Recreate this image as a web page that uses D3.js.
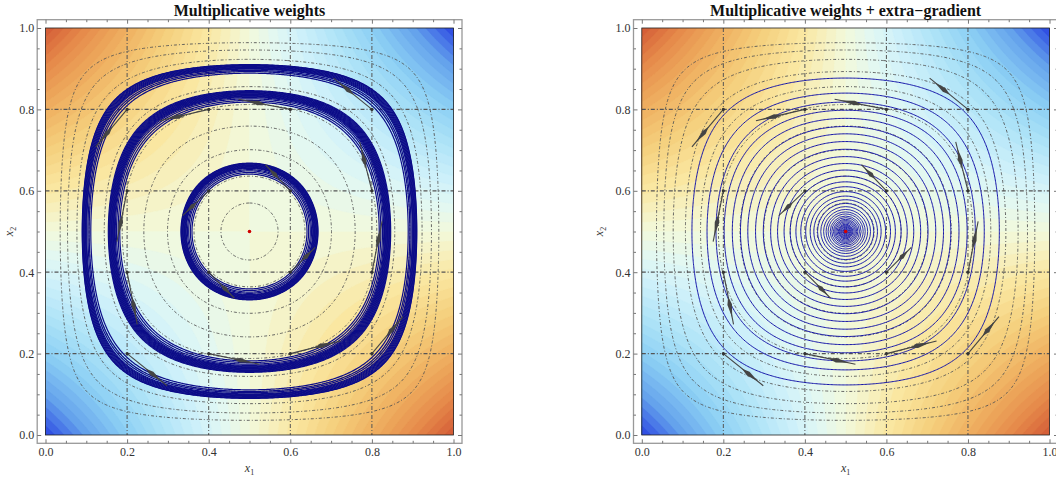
<!DOCTYPE html>
<html>
<head>
<meta charset="utf-8">
<script src="https://cdn.jsdelivr.net/npm/d3@7"></script>
<style>
  body { margin: 0; background: #fff; }
  svg { display: block; }
  text { font-family: "Liberation Serif", "Times New Roman", serif; }
</style>
</head>
<body>
<svg id="chart" width="1056" height="480"></svg>
<script>
// ---- data ----
var majorTicks = [0, 0.2, 0.4, 0.6, 0.8, 1.0];
var minorTicks = [0.05, 0.1, 0.15, 0.25, 0.3, 0.35, 0.45, 0.5, 0.55, 0.65, 0.7, 0.75, 0.85, 0.9, 0.95];
var gridLines = [0.2, 0.4, 0.6, 0.8];

// dot-dashed level curves: distance from 0.5 where each one crosses the x2 = 0.5 line
var contourRadii = [0.070, 0.136, 0.201, 0.259, 0.312, 0.356, 0.393, 0.423, 0.446, 0.464];

// multiplicative weights: three slowly growing bands (crossing radii of the loops)
var innerBand = [0.141, 0.145, 0.149, 0.152, 0.155, 0.1565, 0.158, 0.1595, 0.161, 0.1625, 0.164, 0.1655, 0.167, 0.168];
var middleBand = [0.318, 0.322, 0.326, 0.329, 0.331, 0.3325, 0.334, 0.3355, 0.337, 0.3385, 0.340, 0.3415, 0.343, 0.3445, 0.346];
var outerBand = [0.389, 0.393, 0.396, 0.399, 0.4005, 0.402, 0.4035, 0.405, 0.4065, 0.408, 0.4095, 0.410];

// extra-gradient: turns of the spiral closing in on the centre
var spiralRadii = [0.377, 0.340, 0.318, 0.298, 0.278, 0.258, 0.240, 0.221, 0.202, 0.184, 0.167, 0.151,
  0.136, 0.122, 0.110, 0.098, 0.087, 0.078, 0.069, 0.061, 0.054, 0.048, 0.043, 0.038, 0.034, 0.030,
  0.027, 0.024, 0.021, 0.018, 0.016, 0.014, 0.012, 0.010, 0.008, 0.006, 0.004];

// vector field arrows: start point and displacement
var arrowX1 = [0.2, 0.2, 0.2, 0.2, 0.4, 0.4, 0.4, 0.4, 0.6, 0.6, 0.6, 0.6, 0.8, 0.8, 0.8, 0.8];
var arrowX2 = [0.2, 0.4, 0.6, 0.8, 0.2, 0.4, 0.6, 0.8, 0.2, 0.4, 0.6, 0.8, 0.2, 0.4, 0.6, 0.8];
var arrowDX = [0.098, 0.025, -0.025, -0.077, 0.124, 0.063, -0.064, -0.120, 0.123, 0.061, -0.061, -0.127, 0.076, 0.025, -0.030, -0.094];
var arrowDY = [-0.079, -0.128, -0.125, -0.092, -0.026, -0.064, -0.061, -0.028, 0.031, 0.061, 0.064, 0.025, 0.091, 0.125, 0.120, 0.077];

var equilibrium = [0.5, 0.5];

// colour map (low payoff -> red, high -> blue)
var colorStops = [0, 0.1, 0.2, 0.3, 0.4, 0.5, 0.56, 0.62, 0.7, 0.8, 0.9, 1];
var colorValues = ["#d35a36", "#e68a4a", "#efaf60", "#f5cf7c", "#fae8a2", "#f2f9dc", "#e2f8f2",
  "#cff1fa", "#b2e5f8", "#8ccff4", "#64a2ec", "#2a46e2"];

var panels = [
  { title: "Multiplicative weights", left: 45.5, right: 453.5, ylab: 8.5,
    loops: innerBand.concat(middleBand, outerBand), stroke: "#0c0c88", width: 1.2 },
  { title: "Multiplicative weights + extra\u2212gradient", left: 641.8, right: 1049.5, ylab: 598.5,
    loops: spiralRadii, stroke: "#1414a8", width: 1 }
];

// ---- drawing ----
(function() {
var svg = d3.select("#chart");
var plotTop = 28, plotBottom = 435;
var N = 301, NB = 161, eps = 1e-4, small = 0.07;

function clamp(v) { return Math.min(Math.max(v, eps), 1 - eps); }
// minus the KL-type energy; 0 at the centre
function energy(a, b) { a = clamp(a); b = clamp(b); return Math.log(4 * a * (1 - a)) + Math.log(4 * b * (1 - b)); }
function levelOf(r) { return Math.log(1 - 4 * r * r); }
function payoff(a, b) { return (a - 0.5) * (b - 0.5); }

function grid(fn, n) {
  var v = new Float64Array(n * n);
  for (var j = 0; j < n; j++)
    for (var i = 0; i < n; i++) v[j * n + i] = fn(i / (n - 1), j / (n - 1));
  return v;
}
var energyGrid = grid(energy, N);
var payoffGrid = grid(payoff, NB);

var color = d3.scaleLinear().domain(colorStops).range(colorValues).interpolate(d3.interpolateRgb);
var nb = 44;
var bandLevels = d3.range(-0.25, 0.25, 0.5 / nb);

function gridPath(sx, sy, n) {
  return d3.geoPath(d3.geoTransform({
    point: function(x, y) { this.stream.point(sx((x - 0.5) / (n - 1)), sy((y - 0.5) / (n - 1))); }
  }));
}

var loopContours = d3.contours().size([N, N]);
var fieldContours = d3.contours().size([NB, NB]).thresholds(bandLevels)(payoffGrid);
var levelContours = loopContours.thresholds(contourRadii.map(levelOf))(energyGrid);

panels.forEach(function(p, k) {
  var sx = d3.scaleLinear().domain([0, 1]).range([p.left, p.right]);
  var sy = d3.scaleLinear().domain([0, 1]).range([plotBottom, plotTop]);
  var g = svg.append("g");
  var clipId = "clip" + k;
  g.append("clipPath").attr("id", clipId).append("rect")
    .attr("x", p.left).attr("y", plotTop).attr("width", p.right - p.left).attr("height", plotBottom - plotTop);
  var plot = g.append("g").attr("clip-path", "url(#" + clipId + ")");

  // background density
  var bpath = gridPath(sx, sy, NB);
  plot.selectAll("path.band").data(fieldContours).enter().append("path")
    .attr("class", "band")
    .attr("d", bpath)
    .attr("fill", function(d) { return color(0.5 + 2 * (d.value + 0.25 / nb)); })
    .attr("stroke", function(d) { return color(0.5 + 2 * (d.value + 0.25 / nb)); })
    .attr("stroke-width", 0.4);

  var epath = gridPath(sx, sy, N);
  // dot-dashed level curves
  plot.selectAll("path.level").data(levelContours).enter().append("path")
    .attr("class", "level")
    .attr("d", epath)
    .attr("fill", "none")
    .attr("stroke", "#555")
    .attr("stroke-width", 0.9)
    .attr("stroke-dasharray", "3,2,1,2");

  // grid lines
  plot.selectAll("line.gx").data(gridLines).enter().append("line")
    .attr("x1", function(d) { return sx(d); }).attr("x2", function(d) { return sx(d); })
    .attr("y1", plotTop).attr("y2", plotBottom)
    .attr("stroke", "#555").attr("stroke-width", 1).attr("stroke-dasharray", "4,2,1,2");
  plot.selectAll("line.gy").data(gridLines).enter().append("line")
    .attr("y1", function(d) { return sy(d); }).attr("y2", function(d) { return sy(d); })
    .attr("x1", p.left).attr("x2", p.right)
    .attr("stroke", "#555").attr("stroke-width", 1.2).attr("stroke-dasharray", "4,2,1,2");

  // trajectories: larger turns follow the level curves, the small ones near the centre are round
  var big = p.loops.filter(function(r) { return r >= small; });
  var tiny = p.loops.filter(function(r) { return r < small; });
  var loops = loopContours.thresholds(big.map(levelOf))(energyGrid);
  plot.selectAll("path.traj").data(loops).enter().append("path")
    .attr("class", "traj")
    .attr("d", epath)
    .attr("fill", "none")
    .attr("stroke", p.stroke)
    .attr("stroke-width", p.width);
  plot.selectAll("circle.traj").data(tiny).enter().append("circle")
    .attr("class", "traj")
    .attr("cx", sx(0.5)).attr("cy", sy(0.5))
    .attr("r", function(r) { return sx(0.5 + r) - sx(0.5); })
    .attr("fill", "none")
    .attr("stroke", p.stroke)
    .attr("stroke-width", 0.9);
  if (tiny.length) {
    plot.append("circle").attr("cx", sx(0.5)).attr("cy", sy(0.5))
      .attr("r", sx(0.5 + d3.min(tiny)) - sx(0.5)).attr("fill", p.stroke);
  }

  // arrows
  var arrows = arrowX1.map(function(x, i) {
    return { x0: sx(x), y0: sy(arrowX2[i]), x1: sx(x + arrowDX[i]), y1: sy(arrowX2[i] + arrowDY[i]) };
  });
  var ag = plot.append("g");
  ag.selectAll("line").data(arrows).enter().append("line")
    .attr("x1", function(d) { return d.x0; }).attr("y1", function(d) { return d.y0; })
    .attr("x2", function(d) { return d.x1; }).attr("y2", function(d) { return d.y1; })
    .attr("stroke", "#444").attr("stroke-width", 1.1);
  ag.selectAll("path").data(arrows).enter().append("path")
    .attr("d", function(d) {
      var vx = d.x1 - d.x0, vy = d.y1 - d.y0, L = Math.hypot(vx, vy);
      var nx = -vy / L, ny = vx / L, w = 2.3;
      function at(f) { return [d.x0 + vx * f, d.y0 + vy * f]; }
      var b = at(0.47), m = at(0.62), t = at(0.87);
      return "M" + b + "L" + [m[0] + nx * w, m[1] + ny * w] + "L" + t + "L" + [m[0] - nx * w, m[1] - ny * w] + "Z";
    })
    .attr("fill", "#444");
  ag.selectAll("circle").data(arrows).enter().append("circle")
    .attr("cx", function(d) { return d.x0; }).attr("cy", function(d) { return d.y0; })
    .attr("r", 1.6).attr("fill", "#333");

  plot.append("circle").attr("cx", sx(equilibrium[0])).attr("cy", sy(equilibrium[1]))
    .attr("r", 1.8).attr("fill", "#d00000");

  // plot border
  g.append("rect").attr("x", p.left).attr("y", plotTop)
    .attr("width", p.right - p.left).attr("height", plotBottom - plotTop)
    .attr("fill", "none").attr("stroke", "#222").attr("stroke-width", 0.8);

  // outer frame with ticks
  var fl = p.left - 8.3, fr = p.right + 8.5, ft = 19.7, fb = 443.3;
  g.append("rect").attr("x", fl).attr("y", ft).attr("width", fr - fl).attr("height", fb - ft)
    .attr("fill", "none").attr("stroke", "#999").attr("stroke-width", 1.3);

  function styleAxis(sel) {
    sel.select(".domain").remove();
    sel.selectAll(".tick line").attr("stroke", "#777");
    sel.selectAll(".tick text").attr("fill", "#333")
      .style("font-family", "'Liberation Serif', 'Times New Roman', serif").style("font-size", "12px");
  }
  var fmt = d3.format(".1f");
  g.append("g").attr("transform", "translate(0," + fb + ")")
    .call(d3.axisBottom(sx).tickValues(majorTicks).tickFormat(fmt).tickSizeInner(-4).tickSizeOuter(0).tickPadding(4))
    .call(styleAxis);
  g.append("g").attr("transform", "translate(0," + fb + ")")
    .call(d3.axisBottom(sx).tickValues(minorTicks).tickFormat("").tickSizeInner(-2.5).tickSizeOuter(0))
    .call(styleAxis);
  g.append("g").attr("transform", "translate(0," + ft + ")")
    .call(d3.axisTop(sx).tickValues(majorTicks).tickFormat("").tickSizeInner(-4).tickSizeOuter(0))
    .call(styleAxis);
  g.append("g").attr("transform", "translate(0," + ft + ")")
    .call(d3.axisTop(sx).tickValues(minorTicks).tickFormat("").tickSizeInner(-2.5).tickSizeOuter(0))
    .call(styleAxis);
  g.append("g").attr("transform", "translate(" + fl + ",0)")
    .call(d3.axisLeft(sy).tickValues(majorTicks).tickFormat(fmt).tickSizeInner(-4).tickSizeOuter(0).tickPadding(3))
    .call(styleAxis);
  g.append("g").attr("transform", "translate(" + fl + ",0)")
    .call(d3.axisLeft(sy).tickValues(minorTicks).tickFormat("").tickSizeInner(-2.5).tickSizeOuter(0))
    .call(styleAxis);
  g.append("g").attr("transform", "translate(" + fr + ",0)")
    .call(d3.axisRight(sy).tickValues(majorTicks).tickFormat("").tickSizeInner(-4).tickSizeOuter(0))
    .call(styleAxis);
  g.append("g").attr("transform", "translate(" + fr + ",0)")
    .call(d3.axisRight(sy).tickValues(minorTicks).tickFormat("").tickSizeInner(-2.5).tickSizeOuter(0))
    .call(styleAxis);

  // title and axis labels
  var cx = (p.left + p.right) / 2;
  g.append("text").attr("x", cx).attr("y", 16).attr("text-anchor", "middle")
    .attr("font-weight", "bold").attr("font-size", 16).attr("fill", "#111").text(p.title);
  var xl = g.append("text").attr("x", cx).attr("y", 472).attr("text-anchor", "middle")
    .attr("font-size", 12).attr("fill", "#333");
  xl.append("tspan").attr("font-style", "italic").text("x");
  xl.append("tspan").attr("font-size", 8).attr("dy", 3).text("1");
  var yl = g.append("text").attr("transform", "translate(" + (p.ylab + 4) + "," + ((plotTop + plotBottom) / 2) + ") rotate(-90)")
    .attr("text-anchor", "middle").attr("font-size", 12).attr("fill", "#333");
  yl.append("tspan").attr("font-style", "italic").text("x");
  yl.append("tspan").attr("font-size", 8).attr("dy", 3).text("2");
});
})();
</script>
</body>
</html>
